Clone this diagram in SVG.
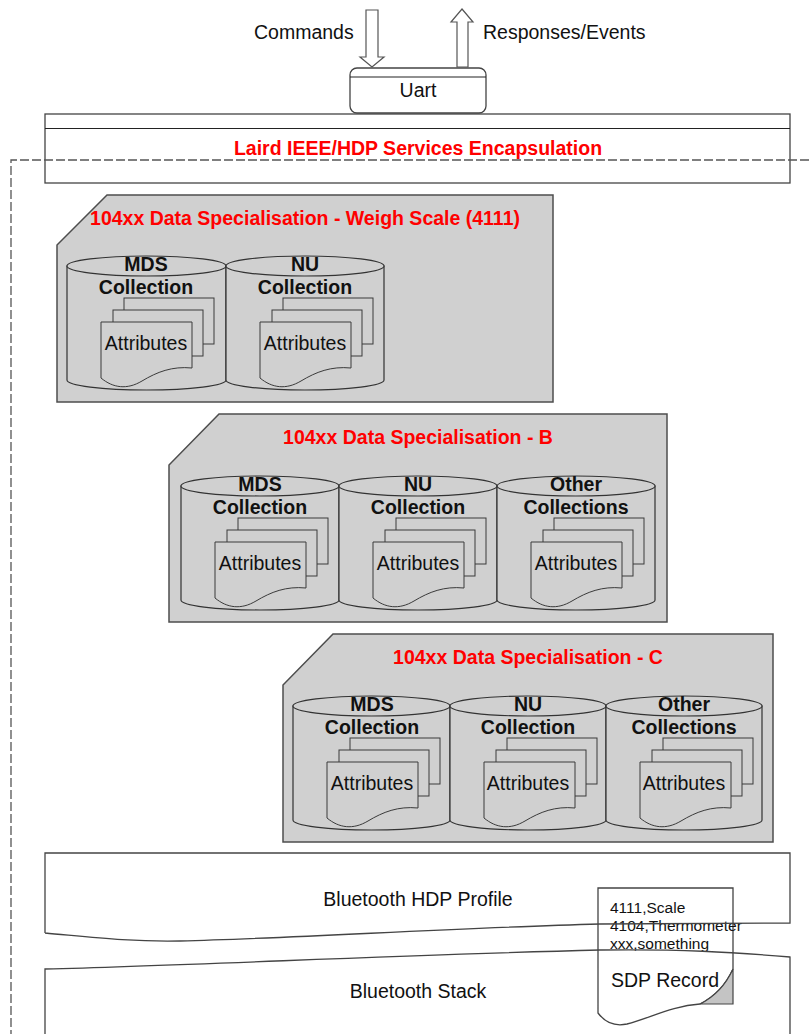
<svg xmlns="http://www.w3.org/2000/svg" xmlns:xlink="http://www.w3.org/1999/xlink" width="809" height="1034" viewBox="0 0 809 1034">
<style>
text{font-family:"Liberation Sans",Arial,sans-serif;font-size:19.5px;fill:#111}
.c{text-anchor:middle}
.b{font-weight:bold}
.red{fill:#ff0000;font-weight:bold;text-anchor:middle}
.spec{fill:#d0d0d0;stroke:#4d4d4d;stroke-width:1.5}
.cyl{fill:#d0d0d0;stroke:#333;stroke-width:1.2}
.pg{fill:#d0d0d0;stroke:#3a3a3a;stroke-width:1}
.ln{fill:none;stroke:#444;stroke-width:1.3}
.wb{fill:#fff;stroke:#444;stroke-width:1.3}
.arr{fill:#fff;stroke:#555;stroke-width:1.2}
.dash{fill:none;stroke:#555;stroke-width:1.3;stroke-dasharray:9 3}
.sm{font-size:15.5px}
</style>
<defs>
<g id="pages">
<rect x="57" y="42" width="90" height="46" class="pg"/>
<rect x="46" y="54" width="90" height="46" class="pg"/>
<path class="pg" d="M34,66 H125 V112 C105,110 90,116 75,125 C60,134 46,132 34,122 Z"/>
</g>
</defs>
<rect width="809" height="1034" fill="#fff"/>

<g id="uart">
<rect x="350" y="68" width="136" height="45" rx="7" class="wb"/>
<line x1="350" y1="77" x2="486" y2="77" stroke="#222" stroke-width="1.2"/>
<text x="418" y="97" class="c">Uart</text>
</g>

<g id="connectors">
<polygon class="arr" points="366,10 378,10 378,57 384,57 372,67 360,57 366,57"/>
<polygon class="arr" points="462,9 473,22 468,22 468,67 457,67 457,22 451,22"/>
<text x="254" y="39">Commands</text>
<text x="483" y="39">Responses/Events</text>
</g>

<g id="laird">
<rect x="45" y="114" width="745" height="69" class="wb"/>
<line x1="45" y1="128.5" x2="790" y2="128.5" stroke="#222" stroke-width="1.2"/>
<text x="418" y="155" class="red">Laird IEEE/HDP Services Encapsulation</text>
</g>

<g id="specA">
<path class="spec" d="M107,195 H553 V402 H57 V245 Z"/>
<text x="305" y="225" class="red">104xx Data Specialisation - Weigh Scale (4111)</text>
<g id="specA-mds">
<path class="cyl" d="M67,266 V380 A79.5,10 0 0 0 226,380 V266 Z"/>
<ellipse class="cyl" cx="146.5" cy="266" rx="79.5" ry="10"/>
<use xlink:href="#pages" transform="translate(67,256)"/>
<text x="146" y="271" class="c b">MDS</text>
<text x="146" y="294" class="c b">Collection</text>
<text x="146" y="350" class="c">Attributes</text>
</g>
<g id="specA-nu">
<path class="cyl" d="M226,266 V380 A79,10 0 0 0 384,380 V266 Z"/>
<ellipse class="cyl" cx="305" cy="266" rx="79" ry="10"/>
<use xlink:href="#pages" transform="translate(226,256)"/>
<text x="305" y="271" class="c b">NU</text>
<text x="305" y="294" class="c b">Collection</text>
<text x="305" y="350" class="c">Attributes</text>
</g>
</g>

<g id="specB">
<path class="spec" d="M219,414 H667 V622 H169 V465 Z"/>
<text x="418" y="444" class="red">104xx Data Specialisation - B</text>
<g id="specB-mds">
<path class="cyl" d="M181,486 V600 A79,10 0 0 0 339,600 V486 Z"/>
<ellipse class="cyl" cx="260" cy="486" rx="79" ry="10"/>
<use xlink:href="#pages" transform="translate(181,476)"/>
<text x="260" y="491" class="c b">MDS</text>
<text x="260" y="514" class="c b">Collection</text>
<text x="260" y="570" class="c">Attributes</text>
</g>
<g id="specB-nu">
<path class="cyl" d="M339,486 V600 A79,10 0 0 0 497,600 V486 Z"/>
<ellipse class="cyl" cx="418" cy="486" rx="79" ry="10"/>
<use xlink:href="#pages" transform="translate(339,476)"/>
<text x="418" y="491" class="c b">NU</text>
<text x="418" y="514" class="c b">Collection</text>
<text x="418" y="570" class="c">Attributes</text>
</g>
<g id="specB-other">
<path class="cyl" d="M497,486 V600 A79,10 0 0 0 655,600 V486 Z"/>
<ellipse class="cyl" cx="576" cy="486" rx="79" ry="10"/>
<use xlink:href="#pages" transform="translate(497,476)"/>
<text x="576" y="491" class="c b">Other</text>
<text x="576" y="514" class="c b">Collections</text>
<text x="576" y="570" class="c">Attributes</text>
</g>
</g>

<g id="specC">
<path class="spec" d="M333,634 H773 V842 H283 V685 Z"/>
<text x="528" y="664" class="red">104xx Data Specialisation - C</text>
<g id="specC-mds">
<path class="cyl" d="M293,706 V820 A78.5,10 0 0 0 450,820 V706 Z"/>
<ellipse class="cyl" cx="371.5" cy="706" rx="78.5" ry="10"/>
<use xlink:href="#pages" transform="translate(293,696)"/>
<text x="372" y="711" class="c b">MDS</text>
<text x="372" y="734" class="c b">Collection</text>
<text x="372" y="790" class="c">Attributes</text>
</g>
<g id="specC-nu">
<path class="cyl" d="M450,706 V820 A78,10 0 0 0 606,820 V706 Z"/>
<ellipse class="cyl" cx="528" cy="706" rx="78" ry="10"/>
<use xlink:href="#pages" transform="translate(450,696)"/>
<text x="528" y="711" class="c b">NU</text>
<text x="528" y="734" class="c b">Collection</text>
<text x="528" y="790" class="c">Attributes</text>
</g>
<g id="specC-other">
<path class="cyl" d="M606,706 V820 A78,10 0 0 0 762,820 V706 Z"/>
<ellipse class="cyl" cx="684" cy="706" rx="78" ry="10"/>
<use xlink:href="#pages" transform="translate(606,696)"/>
<text x="684" y="711" class="c b">Other</text>
<text x="684" y="734" class="c b">Collections</text>
<text x="684" y="790" class="c">Attributes</text>
</g>
</g>

<g id="sdp">
<path class="wb" d="M598,888 H733 V969 Q722,993 700,1004 C672,1006 650,1018 627,1024 C613,1027 604,1021 598,1013 Z"/>
<path d="M700,1004 Q722,993 733,969 V1004 Z" fill="#c4c4c4" stroke="#444" stroke-width="1.2"/>
<text x="610" y="913" class="sm">4111,Scale</text>
<text x="610" y="931" class="sm">4104,Thermometer</text>
<text x="610" y="949" class="sm">xxx,something</text>
<text x="611" y="987">SDP Record</text>
</g>

<g id="hdp">
<path class="ln" d="M45,933 V853 H790 V923 L600,924 C450,928 300,938 180,941 C130,942 90,937 45,933"/>
<text x="418" y="906" class="c">Bluetooth HDP Profile</text>
</g>

<g id="stack">
<path class="ln" d="M45,1036 V969 C200,965 400,955 600,950 C680,949 730,952 790,957 V1036"/>
<text x="418" y="998" class="c">Bluetooth Stack</text>
</g>

<g id="boundary">
<path class="dash" d="M809,160 H11 V1034"/>
</g>
</svg>
